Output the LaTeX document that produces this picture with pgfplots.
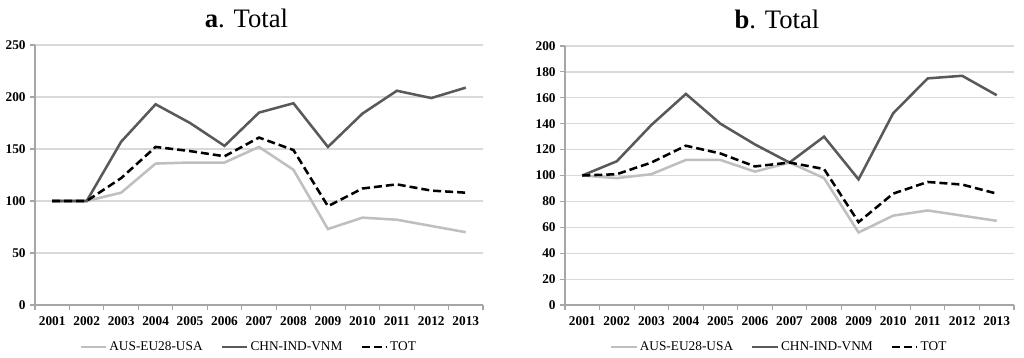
\documentclass[border=0pt]{standalone}
\usepackage{pgfplots}
\pgfplotsset{compat=1.18}
\usepackage{pgfplotstable}
\usepackage{fontspec}
\setmainfont{Liberation Serif}
\definecolor{lgray}{HTML}{BFBFBF}
\definecolor{dgray}{HTML}{595959}
\definecolor{axgray}{HTML}{A6A6A6}
\definecolor{gridgray}{HTML}{D9D9D9}

\pgfplotstableread{
x aus chn tot
0 100 100 100
1 100 100 100
2 108 157 122
3 136 193 152
4 137 175 148
5 137 153 143
6 152 185 161
7 130 194 149
8 73 152 95
9 84 184 112
10 82 206 116
11 76 199 110
12 70 209 108
}\dataA

\pgfplotstableread{
x aus chn tot
0 100 100 100
1 98 111 101
2 101 139 110
3 112 163 123
4 112 140 117
5 103 124 107
6 110 110 110
7 98 130 105
8 56 97 64
9 69 148 86
10 73 175 95
11 69 177 93
12 65 162 86
}\dataB

\pgfplotsset{mystyle/.style={
  scale only axis,
  xmin=-0.5, xmax=12.5, ymin=0,
  axis x line=bottom, axis y line=left,
  axis line style={-, draw=axgray, line width=0.9pt},
  tick align=outside,
  xtick={-0.5,0.5,...,12.5}, xticklabels={},
  extra x ticks={0,1,2,3,4,5,6,7,8,9,10,11,12},
  extra x tick labels={2001,2002,2003,2004,2005,2006,2007,2008,2009,2010,2011,2012,2013},
  extra x tick style={major tick length=0pt, grid=none},
  xticklabel style={yshift=-5.5pt},
  major tick length=3.5pt,
  tick style={draw=axgray, line width=0.8pt},
  ymajorgrids, grid style={draw=gridgray, line width=0.9pt},
  ticklabel style={font=\bfseries\fontsize{10}{12}\selectfont},
  /pgf/number format/assume math mode=true,
  legend columns=3,
  legend style={at={(0.477,-0.162)}, anchor=center, draw=none, fill=none,
    font=\fontsize{10}{12}\selectfont, nodes={inner xsep=1.5pt},
    /tikz/every even column/.append style={column sep=12pt}},
  legend image code/.code={\draw[##1] (0pt,0pt) -- (19pt,0pt);},
  title style={font=\fontsize{20}{22}\selectfont, at={(0.472,1)}, anchor=base, yshift=7.5pt},
}}

\begin{document}
\begin{tikzpicture}
\path[use as bounding box] (0,0) rectangle (768pt,-267.75pt);

\begin{axis}[mystyle, width=336pt, height=195pt,
  at={(26.25pt,-228.75pt)}, anchor=south west,
  ymax=250, ytick={0,50,100,150,200,250},
  title={\textbf{a}. Total}]
\addplot[lgray, line width=1.9pt, no marks] table[x=x,y=aus]{\dataA};
\addlegendentry{AUS-EU28-USA}
\addplot[dgray, line width=1.9pt, no marks] table[x=x,y=chn]{\dataA};
\addlegendentry{CHN-IND-VNM}
\addplot[black, line width=1.9pt, dash pattern=on 6pt off 3pt, no marks] table[x=x,y=tot]{\dataA};
\addlegendentry{TOT}
\end{axis}

\begin{axis}[mystyle, width=336.75pt, height=194.25pt,
  at={(423.75pt,-228.75pt)}, anchor=south west,
  ymax=200, ytick={0,20,...,200},
  title={\textbf{b}. Total}]
\addplot[lgray, line width=1.9pt, no marks] table[x=x,y=aus]{\dataB};
\addlegendentry{AUS-EU28-USA}
\addplot[dgray, line width=1.9pt, no marks] table[x=x,y=chn]{\dataB};
\addlegendentry{CHN-IND-VNM}
\addplot[black, line width=1.9pt, dash pattern=on 6pt off 3pt, no marks] table[x=x,y=tot]{\dataB};
\addlegendentry{TOT}
\end{axis}
\end{tikzpicture}
\end{document}
